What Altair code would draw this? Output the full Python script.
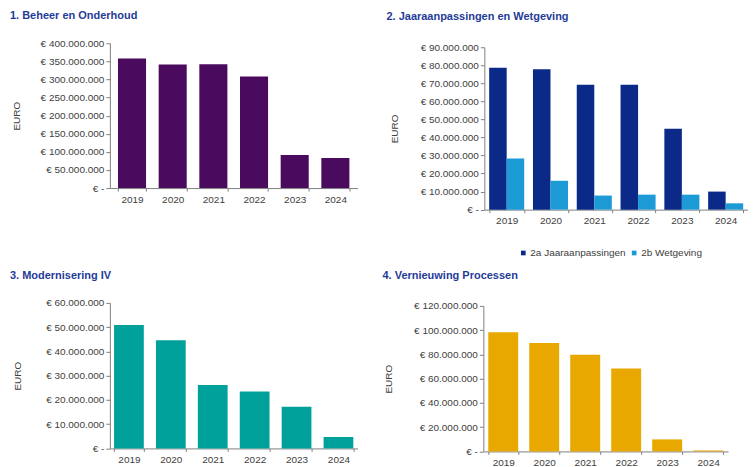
import altair as alt
import pandas as pd

years = ["2019", "2020", "2021", "2022", "2023", "2024"]
beheer = [358e6, 341e6, 342e6, 308e6, 91e6, 83e6]
jaaraanpassingen = [78.6e6, 77.8e6, 69.2e6, 69.2e6, 44.8e6, 10.0e6]
wetgeving = [28.4e6, 16.0e6, 7.8e6, 8.3e6, 8.3e6, 3.5e6]
modernisering = [50.9e6, 44.6e6, 26.1e6, 23.5e6, 17.2e6, 4.7e6]
vernieuwing = [98.2e6, 89.4e6, 79.7e6, 68.4e6, 9.9e6, 0.8e6]

series_names = ["2a Jaaraanpassingen", "2b Wetgeving"]
titles = ["1. Beheer en Onderhoud", "2. Jaaraanpassingen en Wetgeving",
          "3. Modernisering IV", "4. Vernieuwing Processen"]

FONT = "Arial"
TITLE_COLOR = "#1f3c98"
TEXT = "#404040"
AXIS = "#808080"
LABEL = ("datum.value == 0 ? '€ -' : '€ ' + "
         "replace(format(datum.value, ','), regexp(',', 'g'), '.')")


def yaxis(values, title_dist):
    return alt.Axis(values=values, labelExpr=LABEL, title="EURO",
                    minExtent=76, maxExtent=76, titlePadding=title_dist - 76,
                    titleFontWeight="normal", titleFontSize=10,
                    titleColor=TEXT, titleFont=FONT, labelFont=FONT, labelFontSize=10,
                    labelColor=TEXT, grid=False, domainColor=AXIS, tickColor=AXIS,
                    tickSize=4, labelPadding=2)


def xaxis():
    return alt.Axis(title=None, labelAngle=0, labelFont=FONT, labelFontSize=10,
                    labelColor=TEXT, domainColor=AXIS, tickColor=AXIS, tickSize=3,
                    tickBand="extent", labelPadding=3)


def ptitle(text, dx, offset):
    return alt.TitleParams(text=text, anchor="start", frame="group", dx=dx, offset=offset,
                           font=FONT, fontSize=11, fontWeight="bold", color=TITLE_COLOR)


def single(values, color, title, dx, offset, width, height, top, domain_max, step_vals,
           title_dist, pi, po):
    df = pd.DataFrame({"year": years, "value": values})
    return alt.Chart(df).mark_bar(color=color).encode(
        x=alt.X("year:N", sort=years, axis=xaxis(),
                scale=alt.Scale(paddingInner=pi, paddingOuter=po)),
        y=alt.Y("value:Q", axis=yaxis(step_vals, title_dist),
                scale=alt.Scale(domain=[0, domain_max], nice=False, range=[height, top])),
    ).properties(width=width, height=height, title=ptitle(title, dx, offset))


p1 = single(beheer, "#4a0a5e", titles[0], -100, 17, 248, 145, 0, 400e6,
            [i * 50e6 for i in range(9)], 88, 0.31, 0.2)

rows = []
for i, y in enumerate(years):
    rows.append({"year": y, "series": series_names[0], "value": jaaraanpassingen[i]})
    rows.append({"year": y, "series": series_names[1], "value": wetgeving[i]})
df2 = pd.DataFrame(rows)
p2 = alt.Chart(df2).mark_bar().encode(
    x=alt.X("year:N", sort=years, axis=xaxis(),
            scale=alt.Scale(paddingInner=0.2, paddingOuter=0.11)),
    xOffset=alt.XOffset("series:N", sort=series_names),
    y=alt.Y("value:Q", axis=yaxis([i * 10e6 for i in range(10)], 85),
            scale=alt.Scale(domain=[0, 90e6], nice=False, range=[166.6, 4])),
    color=alt.Color("series:N", sort=series_names,
                    scale=alt.Scale(domain=series_names, range=["#0b2a88", "#1b9ad6"]),
                    legend=alt.Legend(orient="none", legendX=409, legendY=205,
                                      direction="horizontal", title=None,
                                      symbolType="square", symbolSize=22,
                                      symbolStrokeWidth=0, labelFont=FONT,
                                      labelFontSize=10, labelColor=TEXT,
                                      columnPadding=3, labelOffset=2)),
).properties(width=264, height=166.6, title=ptitle(titles[1], -98, 20))

p3 = single(modernisering, "#00a19b", titles[2], -100, 17, 248, 145.7, 0, 60e6,
            [i * 10e6 for i in range(7)], 87, 0.29, 0.1)
p4 = single(vernieuwing, "#e8a800", titles[3], -101, 20, 245, 148.7, 3, 120e6,
            [i * 20e6 for i in range(7)], 90, 0.27, 0.12)

row1 = alt.hconcat(p1, p2, spacing=29)
row2 = alt.hconcat(p3, p4, spacing=25)
chart = alt.vconcat(row1, row2, spacing=44).properties(
    padding={"left": 2, "top": 2, "right": 0, "bottom": 0}
).configure_view(strokeWidth=0)

chart.save("out.html", embed_options={"renderer": "svg", "actions": False})
